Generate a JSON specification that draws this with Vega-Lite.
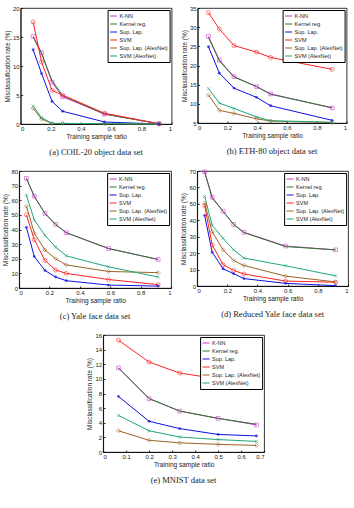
{
"$schema":"https://vega.github.io/schema/vega-lite/v6.json",
"padding":{"left":2,"top":4,"right":1,"bottom":2},
"datasets":{
"all":[
{"p":"a","m":"K-NN","x":0.083,"y":15.1},{"p":"a","m":"K-NN","x":0.139,"y":12.3},{"p":"a","m":"K-NN","x":0.208,"y":7.2},{"p":"a","m":"K-NN","x":0.278,"y":4.7},{"p":"a","m":"K-NN","x":0.556,"y":1.7},{"p":"a","m":"K-NN","x":0.917,"y":0.05},
{"p":"a","m":"Kernel reg.","x":0.083,"y":15.0},{"p":"a","m":"Kernel reg.","x":0.139,"y":12.1},{"p":"a","m":"Kernel reg.","x":0.208,"y":7.5},{"p":"a","m":"Kernel reg.","x":0.278,"y":4.9},{"p":"a","m":"Kernel reg.","x":0.556,"y":1.7},{"p":"a","m":"Kernel reg.","x":0.917,"y":0.05},
{"p":"a","m":"Sup. Lap.","x":0.083,"y":12.8},{"p":"a","m":"Sup. Lap.","x":0.139,"y":8.7},{"p":"a","m":"Sup. Lap.","x":0.208,"y":3.9},{"p":"a","m":"Sup. Lap.","x":0.278,"y":2.2},{"p":"a","m":"Sup. Lap.","x":0.556,"y":0.35},{"p":"a","m":"Sup. Lap.","x":0.917,"y":0.0},
{"p":"a","m":"SVM","x":0.083,"y":17.6},{"p":"a","m":"SVM","x":0.139,"y":10.7},{"p":"a","m":"SVM","x":0.208,"y":5.8},{"p":"a","m":"SVM","x":0.278,"y":5.0},{"p":"a","m":"SVM","x":0.556,"y":1.85},{"p":"a","m":"SVM","x":0.917,"y":0.05},
{"p":"a","m":"Sup. Lap. (AlexNet)","x":0.083,"y":2.7},{"p":"a","m":"Sup. Lap. (AlexNet)","x":0.139,"y":0.85},{"p":"a","m":"Sup. Lap. (AlexNet)","x":0.208,"y":0.1},{"p":"a","m":"Sup. Lap. (AlexNet)","x":0.278,"y":0.1},{"p":"a","m":"Sup. Lap. (AlexNet)","x":0.556,"y":0.05},{"p":"a","m":"Sup. Lap. (AlexNet)","x":0.917,"y":0.0},
{"p":"a","m":"SVM (AlexNet)","x":0.083,"y":3.1},{"p":"a","m":"SVM (AlexNet)","x":0.139,"y":1.1},{"p":"a","m":"SVM (AlexNet)","x":0.208,"y":0.1},{"p":"a","m":"SVM (AlexNet)","x":0.278,"y":0.1},{"p":"a","m":"SVM (AlexNet)","x":0.556,"y":0.05},{"p":"a","m":"SVM (AlexNet)","x":0.917,"y":0.0},

{"p":"b","m":"K-NN","x":0.073,"y":27.6},{"p":"b","m":"K-NN","x":0.146,"y":21.4},{"p":"b","m":"K-NN","x":0.244,"y":17.1},{"p":"b","m":"K-NN","x":0.395,"y":14.5},{"p":"b","m":"K-NN","x":0.49,"y":12.6},{"p":"b","m":"K-NN","x":0.903,"y":8.9},
{"p":"b","m":"Kernel reg.","x":0.073,"y":27.3},{"p":"b","m":"Kernel reg.","x":0.146,"y":21.2},{"p":"b","m":"Kernel reg.","x":0.244,"y":17.0},{"p":"b","m":"Kernel reg.","x":0.395,"y":14.5},{"p":"b","m":"Kernel reg.","x":0.49,"y":12.5},{"p":"b","m":"Kernel reg.","x":0.903,"y":9.0},
{"p":"b","m":"Sup. Lap.","x":0.073,"y":24.9},{"p":"b","m":"Sup. Lap.","x":0.146,"y":18.0},{"p":"b","m":"Sup. Lap.","x":0.244,"y":14.1},{"p":"b","m":"Sup. Lap.","x":0.395,"y":11.7},{"p":"b","m":"Sup. Lap.","x":0.49,"y":9.5},{"p":"b","m":"Sup. Lap.","x":0.903,"y":5.7},
{"p":"b","m":"SVM","x":0.073,"y":33.8},{"p":"b","m":"SVM","x":0.146,"y":29.5},{"p":"b","m":"SVM","x":0.244,"y":25.2},{"p":"b","m":"SVM","x":0.395,"y":23.5},{"p":"b","m":"SVM","x":0.49,"y":22.1},{"p":"b","m":"SVM","x":0.903,"y":19.0},
{"p":"b","m":"Sup. Lap. (AlexNet)","x":0.073,"y":12.3},{"p":"b","m":"Sup. Lap. (AlexNet)","x":0.146,"y":8.3},{"p":"b","m":"Sup. Lap. (AlexNet)","x":0.244,"y":7.5},{"p":"b","m":"Sup. Lap. (AlexNet)","x":0.395,"y":6.1},{"p":"b","m":"Sup. Lap. (AlexNet)","x":0.49,"y":5.5},{"p":"b","m":"Sup. Lap. (AlexNet)","x":0.903,"y":5.1},
{"p":"b","m":"SVM (AlexNet)","x":0.073,"y":14.0},{"p":"b","m":"SVM (AlexNet)","x":0.146,"y":10.2},{"p":"b","m":"SVM (AlexNet)","x":0.244,"y":8.8},{"p":"b","m":"SVM (AlexNet)","x":0.395,"y":6.6},{"p":"b","m":"SVM (AlexNet)","x":0.49,"y":5.6},{"p":"b","m":"SVM (AlexNet)","x":0.903,"y":5.2},

{"p":"c","m":"K-NN","x":0.048,"y":75},{"p":"c","m":"K-NN","x":0.1,"y":62.8},{"p":"c","m":"K-NN","x":0.17,"y":51},{"p":"c","m":"K-NN","x":0.24,"y":43.5},{"p":"c","m":"K-NN","x":0.31,"y":37.8},{"p":"c","m":"K-NN","x":0.588,"y":27},{"p":"c","m":"K-NN","x":0.915,"y":19.5},
{"p":"c","m":"Kernel reg.","x":0.048,"y":75},{"p":"c","m":"Kernel reg.","x":0.1,"y":62.5},{"p":"c","m":"Kernel reg.","x":0.17,"y":51},{"p":"c","m":"Kernel reg.","x":0.24,"y":43.5},{"p":"c","m":"Kernel reg.","x":0.31,"y":37.8},{"p":"c","m":"Kernel reg.","x":0.588,"y":27},{"p":"c","m":"Kernel reg.","x":0.915,"y":19.5},
{"p":"c","m":"Sup. Lap.","x":0.048,"y":41.5},{"p":"c","m":"Sup. Lap.","x":0.1,"y":21.5},{"p":"c","m":"Sup. Lap.","x":0.17,"y":12},{"p":"c","m":"Sup. Lap.","x":0.24,"y":7.5},{"p":"c","m":"Sup. Lap.","x":0.31,"y":5},{"p":"c","m":"Sup. Lap.","x":0.588,"y":2},{"p":"c","m":"Sup. Lap.","x":0.915,"y":1.3},
{"p":"c","m":"SVM","x":0.048,"y":50},{"p":"c","m":"SVM","x":0.1,"y":33},{"p":"c","m":"SVM","x":0.17,"y":18.8},{"p":"c","m":"SVM","x":0.24,"y":12.3},{"p":"c","m":"SVM","x":0.31,"y":10},{"p":"c","m":"SVM","x":0.588,"y":5.8},{"p":"c","m":"SVM","x":0.915,"y":2.3},
{"p":"c","m":"Sup. Lap. (AlexNet)","x":0.048,"y":56},{"p":"c","m":"Sup. Lap. (AlexNet)","x":0.1,"y":37.5},{"p":"c","m":"Sup. Lap. (AlexNet)","x":0.17,"y":26},{"p":"c","m":"Sup. Lap. (AlexNet)","x":0.24,"y":20},{"p":"c","m":"Sup. Lap. (AlexNet)","x":0.31,"y":15.8},{"p":"c","m":"Sup. Lap. (AlexNet)","x":0.588,"y":11.3},{"p":"c","m":"Sup. Lap. (AlexNet)","x":0.915,"y":10.5},
{"p":"c","m":"SVM (AlexNet)","x":0.048,"y":63.5},{"p":"c","m":"SVM (AlexNet)","x":0.1,"y":46.5},{"p":"c","m":"SVM (AlexNet)","x":0.17,"y":36},{"p":"c","m":"SVM (AlexNet)","x":0.24,"y":28},{"p":"c","m":"SVM (AlexNet)","x":0.31,"y":22},{"p":"c","m":"SVM (AlexNet)","x":0.588,"y":14.5},{"p":"c","m":"SVM (AlexNet)","x":0.915,"y":7.5},

{"p":"d","m":"K-NN","x":0.05,"y":69.5},{"p":"d","m":"K-NN","x":0.1,"y":54},{"p":"d","m":"K-NN","x":0.172,"y":45.5},{"p":"d","m":"K-NN","x":0.242,"y":37.5},{"p":"d","m":"K-NN","x":0.31,"y":32.7},{"p":"d","m":"K-NN","x":0.586,"y":24.3},{"p":"d","m":"K-NN","x":0.917,"y":22},
{"p":"d","m":"Kernel reg.","x":0.05,"y":69.5},{"p":"d","m":"Kernel reg.","x":0.1,"y":53.5},{"p":"d","m":"Kernel reg.","x":0.172,"y":45.5},{"p":"d","m":"Kernel reg.","x":0.242,"y":37.5},{"p":"d","m":"Kernel reg.","x":0.31,"y":32.5},{"p":"d","m":"Kernel reg.","x":0.586,"y":24},{"p":"d","m":"Kernel reg.","x":0.917,"y":22},
{"p":"d","m":"Sup. Lap.","x":0.05,"y":43},{"p":"d","m":"Sup. Lap.","x":0.1,"y":20.5},{"p":"d","m":"Sup. Lap.","x":0.172,"y":10.5},{"p":"d","m":"Sup. Lap.","x":0.242,"y":7.5},{"p":"d","m":"Sup. Lap.","x":0.31,"y":4.5},{"p":"d","m":"Sup. Lap.","x":0.586,"y":1.6},{"p":"d","m":"Sup. Lap.","x":0.917,"y":0.2},
{"p":"d","m":"SVM","x":0.05,"y":49},{"p":"d","m":"SVM","x":0.1,"y":25},{"p":"d","m":"SVM","x":0.172,"y":13},{"p":"d","m":"SVM","x":0.242,"y":9.5},{"p":"d","m":"SVM","x":0.31,"y":7.3},{"p":"d","m":"SVM","x":0.586,"y":3},{"p":"d","m":"SVM","x":0.917,"y":2.3},
{"p":"d","m":"Sup. Lap. (AlexNet)","x":0.05,"y":50.5},{"p":"d","m":"Sup. Lap. (AlexNet)","x":0.1,"y":33},{"p":"d","m":"Sup. Lap. (AlexNet)","x":0.172,"y":22},{"p":"d","m":"Sup. Lap. (AlexNet)","x":0.242,"y":15.5},{"p":"d","m":"Sup. Lap. (AlexNet)","x":0.31,"y":12.5},{"p":"d","m":"Sup. Lap. (AlexNet)","x":0.586,"y":6},{"p":"d","m":"Sup. Lap. (AlexNet)","x":0.917,"y":2.5},
{"p":"d","m":"SVM (AlexNet)","x":0.05,"y":54.5},{"p":"d","m":"SVM (AlexNet)","x":0.1,"y":37},{"p":"d","m":"SVM (AlexNet)","x":0.172,"y":29},{"p":"d","m":"SVM (AlexNet)","x":0.242,"y":22},{"p":"d","m":"SVM (AlexNet)","x":0.31,"y":17},{"p":"d","m":"SVM (AlexNet)","x":0.586,"y":12.3},{"p":"d","m":"SVM (AlexNet)","x":0.917,"y":6.2},

{"p":"e","m":"K-NN","x":0.0667,"y":11.5},{"p":"e","m":"K-NN","x":0.2,"y":7.3},{"p":"e","m":"K-NN","x":0.333,"y":5.6},{"p":"e","m":"K-NN","x":0.5,"y":4.6},{"p":"e","m":"K-NN","x":0.667,"y":3.7},
{"p":"e","m":"Kernel reg.","x":0.0667,"y":11.5},{"p":"e","m":"Kernel reg.","x":0.2,"y":7.3},{"p":"e","m":"Kernel reg.","x":0.333,"y":5.6},{"p":"e","m":"Kernel reg.","x":0.5,"y":4.6},{"p":"e","m":"Kernel reg.","x":0.667,"y":3.8},
{"p":"e","m":"Sup. Lap.","x":0.0667,"y":7.6},{"p":"e","m":"Sup. Lap.","x":0.2,"y":4.2},{"p":"e","m":"Sup. Lap.","x":0.333,"y":3.2},{"p":"e","m":"Sup. Lap.","x":0.5,"y":2.4},{"p":"e","m":"Sup. Lap.","x":0.667,"y":2.2},
{"p":"e","m":"SVM","x":0.0667,"y":15.3},{"p":"e","m":"SVM","x":0.2,"y":12.3},{"p":"e","m":"SVM","x":0.333,"y":10.8},{"p":"e","m":"SVM","x":0.5,"y":10.0},{"p":"e","m":"SVM","x":0.667,"y":9.8},
{"p":"e","m":"Sup. Lap. (AlexNet)","x":0.0667,"y":2.9},{"p":"e","m":"Sup. Lap. (AlexNet)","x":0.2,"y":1.6},{"p":"e","m":"Sup. Lap. (AlexNet)","x":0.333,"y":1.25},{"p":"e","m":"Sup. Lap. (AlexNet)","x":0.5,"y":1.05},{"p":"e","m":"Sup. Lap. (AlexNet)","x":0.667,"y":0.9},
{"p":"e","m":"SVM (AlexNet)","x":0.0667,"y":5.0},{"p":"e","m":"SVM (AlexNet)","x":0.2,"y":2.9},{"p":"e","m":"SVM (AlexNet)","x":0.333,"y":2.05},{"p":"e","m":"SVM (AlexNet)","x":0.5,"y":1.7},{"p":"e","m":"SVM (AlexNet)","x":0.667,"y":1.45}
]},
"data":{"name":"all"},
"spacing":10,
"center":true,
"resolve":{"scale":{"color":"independent"},"legend":{"color":"independent"}},
"vconcat":[
{"hconcat":[
{"width":151,"height":116,
 "transform":[{"filter":"datum.p==='a'"}],
 "title":"(a) COIL-20 object data set",
 "encoding":{
  "x":{"field":"x","type":"quantitative","scale":{"domain":[0,1]},"axis":{"title":"Training sample ratio","values":[0,0.2,0.4,0.6,0.8,1],"format":".1~f"}},
  "y":{"field":"y","type":"quantitative","scale":{"domain":[0,20]},"axis":{"title":"Misclassification rate (%)","values":[0,5,10,15,20],"format":"d"}}
 },
 "layer":[
  {"mark":{"type":"line","strokeWidth":1},"encoding":{"color":{"field":"m","type":"nominal","scale":{"domain":["K-NN","Kernel reg.","Sup. Lap.","SVM","Sup. Lap. (AlexNet)","SVM (AlexNet)"],"range":["#cc33cc","#2a7a2a","#1010e0","#ff2020","#9a6424","#1fa67a"]},"legend":{"title":null,"symbolType":"stroke","symbolSize":49}}}},
  {"transform":[{"filter":"datum.m==='K-NN'"}],"mark":{"type":"point","shape":"square","filled":false,"color":"#cc33cc","size":14,"strokeWidth":0.8}},
  {"transform":[{"filter":"datum.m==='SVM'"}],"mark":{"type":"point","shape":"circle","filled":false,"color":"#ff2020","size":16,"strokeWidth":0.8}},
  {"transform":[{"filter":"datum.m==='Sup. Lap. (AlexNet)'"}],"mark":{"type":"point","shape":"diamond","filled":false,"color":"#9a6424","size":16,"strokeWidth":0.8}},
  {"transform":[{"filter":"datum.m==='SVM (AlexNet)'"}],"mark":{"type":"point","shape":"M-1,-1L1,1M-1,1L1,-1","filled":false,"color":"#1fa67a","size":10,"strokeWidth":0.8}},
  {"transform":[{"filter":"datum.m==='Sup. Lap.'"}],"mark":{"type":"point","filled":true,"shape":"circle","size":8,"color":"#1010e0"}}
 ]},
{"width":149,"height":115,
 "transform":[{"filter":"datum.p==='b'"}],
 "title":"(b) ETH-80 object data set",
 "encoding":{
  "x":{"field":"x","type":"quantitative","scale":{"domain":[0,1]},"axis":{"title":"Training sample ratio","values":[0,0.2,0.4,0.6,0.8,1],"format":".1~f"}},
  "y":{"field":"y","type":"quantitative","scale":{"domain":[5,35]},"axis":{"title":"Misclassification rate (%)","values":[5,10,15,20,25,30,35],"format":"d"}}
 },
 "layer":[
  {"mark":{"type":"line","strokeWidth":1},"encoding":{"color":{"field":"m","type":"nominal","scale":{"domain":["K-NN","Kernel reg.","Sup. Lap.","SVM","Sup. Lap. (AlexNet)","SVM (AlexNet)"],"range":["#cc33cc","#2a7a2a","#1010e0","#ff2020","#9a6424","#1fa67a"]},"legend":{"title":null,"symbolType":"stroke","symbolSize":49}}}},
  {"transform":[{"filter":"datum.m==='K-NN'"}],"mark":{"type":"point","shape":"square","filled":false,"color":"#cc33cc","size":14,"strokeWidth":0.8}},
  {"transform":[{"filter":"datum.m==='SVM'"}],"mark":{"type":"point","shape":"circle","filled":false,"color":"#ff2020","size":16,"strokeWidth":0.8}},
  {"transform":[{"filter":"datum.m==='Sup. Lap. (AlexNet)'"}],"mark":{"type":"point","shape":"diamond","filled":false,"color":"#9a6424","size":16,"strokeWidth":0.8}},
  {"transform":[{"filter":"datum.m==='SVM (AlexNet)'"}],"mark":{"type":"point","shape":"M-1,-1L1,1M-1,1L1,-1","filled":false,"color":"#1fa67a","size":10,"strokeWidth":0.8}},
  {"transform":[{"filter":"datum.m==='Sup. Lap.'"}],"mark":{"type":"point","filled":true,"shape":"circle","size":8,"color":"#1010e0"}}
 ]}
],"spacing":8,"resolve":{"scale":{"color":"independent"},"legend":{"color":"independent"}}},
{"hconcat":[
{"width":152,"height":117,
 "transform":[{"filter":"datum.p==='c'"}],
 "title":"(c) Yale face data set",
 "encoding":{
  "x":{"field":"x","type":"quantitative","scale":{"domain":[0,1]},"axis":{"title":"Training sample ratio","values":[0,0.2,0.4,0.6,0.8,1],"format":".1~f"}},
  "y":{"field":"y","type":"quantitative","scale":{"domain":[0,80]},"axis":{"title":"Misclassification rate (%)","values":[0,10,20,30,40,50,60,70,80],"format":"d"}}
 },
 "layer":[
  {"mark":{"type":"line","strokeWidth":1},"encoding":{"color":{"field":"m","type":"nominal","scale":{"domain":["K-NN","Kernel reg.","Sup. Lap.","SVM","Sup. Lap. (AlexNet)","SVM (AlexNet)"],"range":["#cc33cc","#2a7a2a","#1010e0","#ff2020","#9a6424","#1fa67a"]},"legend":{"title":null,"symbolType":"stroke","symbolSize":49}}}},
  {"transform":[{"filter":"datum.m==='K-NN'"}],"mark":{"type":"point","shape":"square","filled":false,"color":"#cc33cc","size":14,"strokeWidth":0.8}},
  {"transform":[{"filter":"datum.m==='SVM'"}],"mark":{"type":"point","shape":"circle","filled":false,"color":"#ff2020","size":16,"strokeWidth":0.8}},
  {"transform":[{"filter":"datum.m==='Sup. Lap. (AlexNet)'"}],"mark":{"type":"point","shape":"diamond","filled":false,"color":"#9a6424","size":16,"strokeWidth":0.8}},
  {"transform":[{"filter":"datum.m==='SVM (AlexNet)'"}],"mark":{"type":"point","shape":"M-1,-1L1,1M-1,1L1,-1","filled":false,"color":"#1fa67a","size":10,"strokeWidth":0.8}},
  {"transform":[{"filter":"datum.m==='Sup. Lap.'"}],"mark":{"type":"point","filled":true,"shape":"circle","size":8,"color":"#1010e0"}}
 ]},
{"width":151,"height":115,
 "transform":[{"filter":"datum.p==='d'"}],
 "title":"(d) Reduced Yale face data set",
 "encoding":{
  "x":{"field":"x","type":"quantitative","scale":{"domain":[0,1]},"axis":{"title":"Training sample ratio","values":[0,0.2,0.4,0.6,0.8,1],"format":".1~f"}},
  "y":{"field":"y","type":"quantitative","scale":{"domain":[0,70]},"axis":{"title":"Misclassification rate (%)","values":[0,10,20,30,40,50,60,70],"format":"d"}}
 },
 "layer":[
  {"mark":{"type":"line","strokeWidth":1},"encoding":{"color":{"field":"m","type":"nominal","scale":{"domain":["K-NN","Kernel reg.","Sup. Lap.","SVM","Sup. Lap. (AlexNet)","SVM (AlexNet)"],"range":["#cc33cc","#2a7a2a","#1010e0","#ff2020","#9a6424","#1fa67a"]},"legend":{"title":null,"symbolType":"stroke","symbolSize":49}}}},
  {"transform":[{"filter":"datum.m==='K-NN'"}],"mark":{"type":"point","shape":"square","filled":false,"color":"#cc33cc","size":14,"strokeWidth":0.8}},
  {"transform":[{"filter":"datum.m==='SVM'"}],"mark":{"type":"point","shape":"circle","filled":false,"color":"#ff2020","size":16,"strokeWidth":0.8}},
  {"transform":[{"filter":"datum.m==='Sup. Lap. (AlexNet)'"}],"mark":{"type":"point","shape":"diamond","filled":false,"color":"#9a6424","size":16,"strokeWidth":0.8}},
  {"transform":[{"filter":"datum.m==='SVM (AlexNet)'"}],"mark":{"type":"point","shape":"M-1,-1L1,1M-1,1L1,-1","filled":false,"color":"#1fa67a","size":10,"strokeWidth":0.8}},
  {"transform":[{"filter":"datum.m==='Sup. Lap.'"}],"mark":{"type":"point","filled":true,"shape":"circle","size":8,"color":"#1010e0"}}
 ]}
],"spacing":8,"resolve":{"scale":{"color":"independent"},"legend":{"color":"independent"}}},
{"width":161,"height":117,
 "transform":[{"filter":"datum.p==='e'"}],
 "title":"(e) MNIST data set",
 "encoding":{
  "x":{"field":"x","type":"quantitative","scale":{"domain":[0,0.7]},"axis":{"title":"Training sample ratio","values":[0,0.1,0.2,0.3,0.4,0.5,0.6,0.7],"format":".1~f"}},
  "y":{"field":"y","type":"quantitative","scale":{"domain":[0,16]},"axis":{"title":"Misclassification rate (%)","values":[0,2,4,6,8,10,12,14,16],"format":"d"}}
 },
 "layer":[
  {"mark":{"type":"line","strokeWidth":1},"encoding":{"color":{"field":"m","type":"nominal","scale":{"domain":["K-NN","Kernel reg.","Sup. Lap.","SVM","Sup. Lap. (AlexNet)","SVM (AlexNet)"],"range":["#cc33cc","#2a7a2a","#1010e0","#ff2020","#9a6424","#1fa67a"]},"legend":{"title":null,"symbolType":"stroke","symbolSize":49}}}},
  {"transform":[{"filter":"datum.m==='K-NN'"}],"mark":{"type":"point","shape":"square","filled":false,"color":"#cc33cc","size":14,"strokeWidth":0.8}},
  {"transform":[{"filter":"datum.m==='SVM'"}],"mark":{"type":"point","shape":"circle","filled":false,"color":"#ff2020","size":16,"strokeWidth":0.8}},
  {"transform":[{"filter":"datum.m==='Sup. Lap. (AlexNet)'"}],"mark":{"type":"point","shape":"diamond","filled":false,"color":"#9a6424","size":16,"strokeWidth":0.8}},
  {"transform":[{"filter":"datum.m==='SVM (AlexNet)'"}],"mark":{"type":"point","shape":"M-1,-1L1,1M-1,1L1,-1","filled":false,"color":"#1fa67a","size":10,"strokeWidth":0.8}},
  {"transform":[{"filter":"datum.m==='Sup. Lap.'"}],"mark":{"type":"point","filled":true,"shape":"circle","size":8,"color":"#1010e0"}}
 ]}
],
"config":{
 "font":"Liberation Sans",
 "view":{"stroke":"black","strokeWidth":0.8},
 "axis":{"grid":false,"domainColor":"black","domainWidth":0.8,"tickColor":"black","tickSize":-2,"tickWidth":0.8,"labelFontSize":6,"labelColor":"#222","titleFontSize":6.5,"titleFontWeight":"normal","titleColor":"#222","labelPadding":3.5,"titlePadding":2},
 "legend":{"orient":"top-right","offset":2,"strokeColor":"black","fillColor":"white","padding":2,"labelFontSize":5.5,"labelColor":"#222","symbolType":"stroke","symbolSize":49,"symbolStrokeWidth":1,"rowPadding":0,"labelOffset":2},
 "title":{"font":"Liberation Serif","fontSize":8.5,"fontWeight":"normal","orient":"bottom","anchor":"middle","offset":8,"color":"#222"}
}
}
